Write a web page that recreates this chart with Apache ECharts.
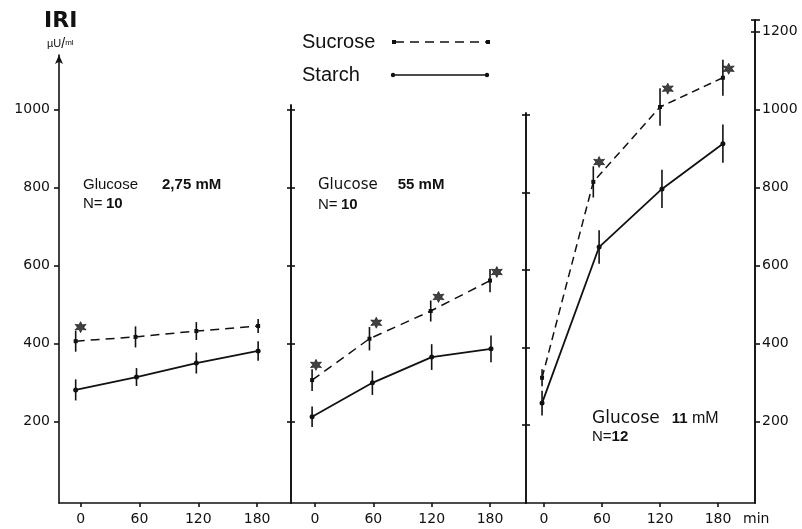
<!DOCTYPE html>
<html>
<head>
<meta charset="utf-8">
<script src="https://cdn.jsdelivr.net/npm/echarts@6/dist/echarts.min.js"></script>
<style>html,body{margin:0;padding:0;background:#fff}#chart{width:802px;height:529px}</style>
</head>
<body>
<div id="chart"></div>
<script>
// ---------- data ----------
const timeTicks = [0, 60, 120, 180];
const leftTicks = [200, 400, 600, 800, 1000];
const rightTicks = [200, 400, 600, 800, 1000, 1200];

// Panel 1: glucose 2.75 mM
const p1SucroseX = [-5, 56, 118, 181];
const p1SucroseY = [406, 417, 432, 445];
const p1SucroseErr = [27, 27, 23, 18];
const p1StarchX = [-5, 57, 118, 181];
const p1StarchY = [281, 314, 350, 381];
const p1StarchErr = [27, 23, 27, 25];
const p1StarX = [0];
const p1StarY = [442];

// Panel 2: glucose 5.5 mM
const p2SucroseX = [-3, 56, 119, 180];
const p2SucroseY = [306, 412, 483, 561];
const p2SucroseErr = [28, 30, 27, 30];
const p2StarchX = [-3, 59, 120, 181];
const p2StarchY = [212, 299, 365, 386];
const p2StarchErr = [26, 31, 33, 34];
const p2StarX = [1, 63, 127, 187];
const p2StarY = [345, 453, 519, 583];

// Panel 3: glucose 11 mM
const p3SucroseX = [-2, 51, 120, 185];
const p3SucroseY = [312, 814, 1006, 1081];
const p3SucroseErr = [22, 40, 48, 46];
const p3StarchX = [-2, 57, 122, 185];
const p3StarchY = [247, 647, 796, 912];
const p3StarchErr = [32, 43, 49, 49];
const p3StarX = [57, 128, 191];
const p3StarY = [865, 1053, 1104];

// ---------- helpers ----------
const INK = '#111111';
const SANS = "'Liberation Sans', Arial, sans-serif";
const NUM = "'DejaVu Sans', sans-serif";

function pairs(xs, ys) { return xs.map((x, i) => [x, ys[i]]); }
function triples(xs, ys, es) { return xs.map((x, i) => [x, ys[i], es[i]]); }

function starPath() {
  let d = '';
  for (let i = 0; i < 12; i++) {
    const r = i % 2 ? 0.5 : 1;
    const a = -Math.PI / 2 + i * Math.PI / 6;
    d += (i ? 'L' : 'M') + (r * Math.cos(a)).toFixed(3) + ' ' + (r * Math.sin(a)).toFixed(3);
  }
  return 'path://' + d + 'Z';
}
const STAR = starPath();

function errRender(params, api) {
  const x = api.value(0), y = api.value(1), e = api.value(2);
  const a = api.coord([x, y + e]);
  const b = api.coord([x, y - e]);
  return { type: 'line', shape: { x1: a[0], y1: a[1], x2: b[0], y2: b[1] },
           style: { stroke: INK, lineWidth: 1.6 } };
}

function panelSeries(idx, sx, sy, se, tx, ty, te, stx, sty, dash) {
  const yi = idx === 0 ? 0 : (idx === 1 ? 1 : 3);
  return [
    { type: 'line', xAxisIndex: idx, yAxisIndex: yi,
      data: pairs(sx, sy), symbol: 'rect', symbolSize: 4, showSymbol: true,
      itemStyle: { color: INK }, lineStyle: { color: INK, width: 1.5, type: dash }, z: 3 },
    { type: 'line', xAxisIndex: idx, yAxisIndex: yi,
      data: pairs(tx, ty), symbol: 'circle', symbolSize: 5,
      itemStyle: { color: INK }, lineStyle: { color: INK, width: 1.8 }, z: 3 },
    { type: 'custom', xAxisIndex: idx, yAxisIndex: yi,
      data: triples(sx, sy, se), renderItem: errRender, encode: { x: 0, y: 1 }, z: 4 },
    { type: 'custom', xAxisIndex: idx, yAxisIndex: yi,
      data: triples(tx, ty, te), renderItem: errRender, encode: { x: 0, y: 1 }, z: 4 },
    { type: 'scatter', xAxisIndex: idx, yAxisIndex: yi,
      data: pairs(stx, sty), symbol: STAR, symbolSize: 11,
      itemStyle: { color: INK, borderColor: INK, borderWidth: 0.8 }, z: 5 }
  ];
}

const axisLineStyle = { color: INK, width: 1.6 };
const plain = v => String(v);
const numLabel = { color: INK, fontFamily: NUM, fontSize: 14, formatter: plain };

function xAx(grid, min, max) {
  return { type: 'value', gridIndex: grid, min: min, max: max,
    axisLine: { show: true, onZero: false, lineStyle: axisLineStyle },
    axisTick: { show: true, customValues: timeTicks, length: 4, lineStyle: axisLineStyle },
    axisLabel: Object.assign({ customValues: timeTicks, margin: 9 }, numLabel),
    splitLine: { show: false } };
}

function yAx(grid, pos, min, max, ticks, inside, opts) {
  return Object.assign({ type: 'value', gridIndex: grid, position: pos, min: min, max: max,
    axisLine: { show: true, onZero: false, lineStyle: axisLineStyle },
    axisTick: { show: true, inside: inside, customValues: ticks, length: 4, lineStyle: axisLineStyle },
    axisLabel: { show: false },
    splitLine: { show: false } }, opts || {});
}

const option = {
  animation: false,
  backgroundColor: '#fff',
  grid: [
    { left: 59, right: 511, top: 55, bottom: 26, containLabel: false },
    { left: 291, right: 276, top: 105, bottom: 26, containLabel: false },
    { left: 526, right: 47, top: 20, bottom: 26, containLabel: false },
    { left: 526, right: 266, top: 113, bottom: 26, containLabel: false }
  ],
  xAxis: [
    xAx(0, -22, 214.5),
    xAx(1, -24.7, 217),
    xAx(2, -18.6, 218.2),
    { type: 'value', gridIndex: 3, min: 0, max: 1, show: false }
  ],
  yAxis: [
    yAx(0, 'left', -9, 1140, leftTicks, false, {
      axisLine: { show: true, onZero: false, lineStyle: axisLineStyle,
                  symbol: ['none', 'arrow'], symbolSize: [6, 9] },
      axisTick: { show: true, customValues: leftTicks, length: 5, lineStyle: axisLineStyle },
      axisLabel: Object.assign({ customValues: leftTicks, margin: 9 }, numLabel) }),
    yAx(1, 'left', -9, 1011, leftTicks, false),
    yAx(1, 'left', -9, 1011, leftTicks, true),
    yAx(2, 'right', -9, 1229, rightTicks.concat([1229]), false, {
      axisTick: { show: true, customValues: rightTicks.concat([1229]), length: 5, lineStyle: axisLineStyle },
      axisLabel: Object.assign({ customValues: rightTicks, margin: 7 }, numLabel) }),
    yAx(2, 'right', -9, 1229, [1200, 1229], true),
    yAx(3, 'left', -1, 1005, leftTicks, false),
    yAx(3, 'left', -1, 1005, leftTicks, true)
  ],
  series: [].concat(
    panelSeries(0, p1SucroseX, p1SucroseY, p1SucroseErr, p1StarchX, p1StarchY, p1StarchErr, p1StarX, p1StarY, [9, 6]),
    panelSeries(1, p2SucroseX, p2SucroseY, p2SucroseErr, p2StarchX, p2StarchY, p2StarchErr, p2StarX, p2StarY, [9, 6]),
    panelSeries(2, p3SucroseX, p3SucroseY, p3SucroseErr, p3StarchX, p3StarchY, p3StarchErr, p3StarX, p3StarY, [8, 5])
  ),
  graphic: [
    { type: 'text', x: 44, y: 21, style: { text: 'IRI', font: "bold 22px 'DejaVu Sans', sans-serif",
      fill: INK, verticalAlign: 'middle' } },
    { type: 'text', x: 47, y: 44, style: { text: '{a|µU}{s|/}{b|ml}', fill: INK, verticalAlign: 'middle',
      rich: { a: { fontSize: 11, fontFamily: SANS, fill: INK },
              s: { fontSize: 14, fontFamily: SANS, fill: INK },
              b: { fontSize: 8, fontFamily: SANS, fill: INK, padding: [0, 0, 3, 0] } } } },
    // legend
    { type: 'text', x: 302, y: 42, style: { text: 'Sucrose', font: '20px ' + SANS, fill: INK, verticalAlign: 'middle' } },
    { type: 'line', shape: { x1: 395, y1: 42, x2: 487, y2: 42 }, style: { stroke: INK, lineWidth: 1.5, lineDash: [9, 6] } },
    { type: 'rect', shape: { x: 392, y: 40, width: 4, height: 4 }, style: { fill: INK } },
    { type: 'rect', shape: { x: 486, y: 40, width: 4, height: 4 }, style: { fill: INK } },
    { type: 'text', x: 302, y: 75, style: { text: 'Starch', font: '20px ' + SANS, fill: INK, verticalAlign: 'middle' } },
    { type: 'line', shape: { x1: 393, y1: 75, x2: 487, y2: 75 }, style: { stroke: INK, lineWidth: 1.3 } },
    { type: 'circle', shape: { cx: 393, cy: 75, r: 2.2 }, style: { fill: INK } },
    { type: 'circle', shape: { cx: 487, cy: 75, r: 2.2 }, style: { fill: INK } },
    // annotations
    { type: 'text', x: 83, y: 185, style: { text: '{n|Glucose}{b|2,75 mM}', verticalAlign: 'middle',
      rich: { n: { fontSize: 15, fontFamily: SANS, fill: INK },
              b: { fontSize: 15, fontFamily: SANS, fontWeight: 'bold', fill: INK, padding: [0, 0, 0, 24] } } } },
    { type: 'text', x: 83, y: 204, style: { text: '{n|N=} {b|10}', verticalAlign: 'middle',
      rich: { n: { fontSize: 15, fontFamily: SANS, fill: INK },
              b: { fontSize: 15, fontFamily: SANS, fontWeight: 'bold', fill: INK } } } },
    { type: 'text', x: 318, y: 185, style: { text: '{n|Glucose}{b|55 mM}', verticalAlign: 'middle',
      rich: { n: { fontSize: 15, fontFamily: NUM, fill: INK },
              b: { fontSize: 15, fontFamily: SANS, fontWeight: 'bold', fill: INK, padding: [0, 0, 0, 20] } } } },
    { type: 'text', x: 318, y: 205, style: { text: '{n|N=} {b|10}', verticalAlign: 'middle',
      rich: { n: { fontSize: 15, fontFamily: SANS, fill: INK },
              b: { fontSize: 15, fontFamily: SANS, fontWeight: 'bold', fill: INK } } } },
    { type: 'text', x: 592, y: 419, style: { text: '{n|Glucose}{b|11}{m| mM}', verticalAlign: 'middle',
      rich: { n: { fontSize: 17, fontFamily: NUM, fill: INK },
              b: { fontSize: 15, fontFamily: SANS, fontWeight: 'bold', fill: INK, padding: [0, 0, 0, 12] },
              m: { fontSize: 16, fontFamily: SANS, fill: INK } } } },
    { type: 'text', x: 592, y: 437, style: { text: '{n|N=}{b|12}', verticalAlign: 'middle',
      rich: { n: { fontSize: 15, fontFamily: SANS, fill: INK },
              b: { fontSize: 15, fontFamily: SANS, fontWeight: 'bold', fill: INK } } } },
    { type: 'text', x: 743, y: 519, style: { text: 'min', font: '14px ' + NUM, fill: INK, verticalAlign: 'middle' } }
  ]
};

const chart = echarts.init(document.getElementById('chart'), null, { renderer: 'canvas' });
chart.setOption(option);
</script>
</body>
</html>
